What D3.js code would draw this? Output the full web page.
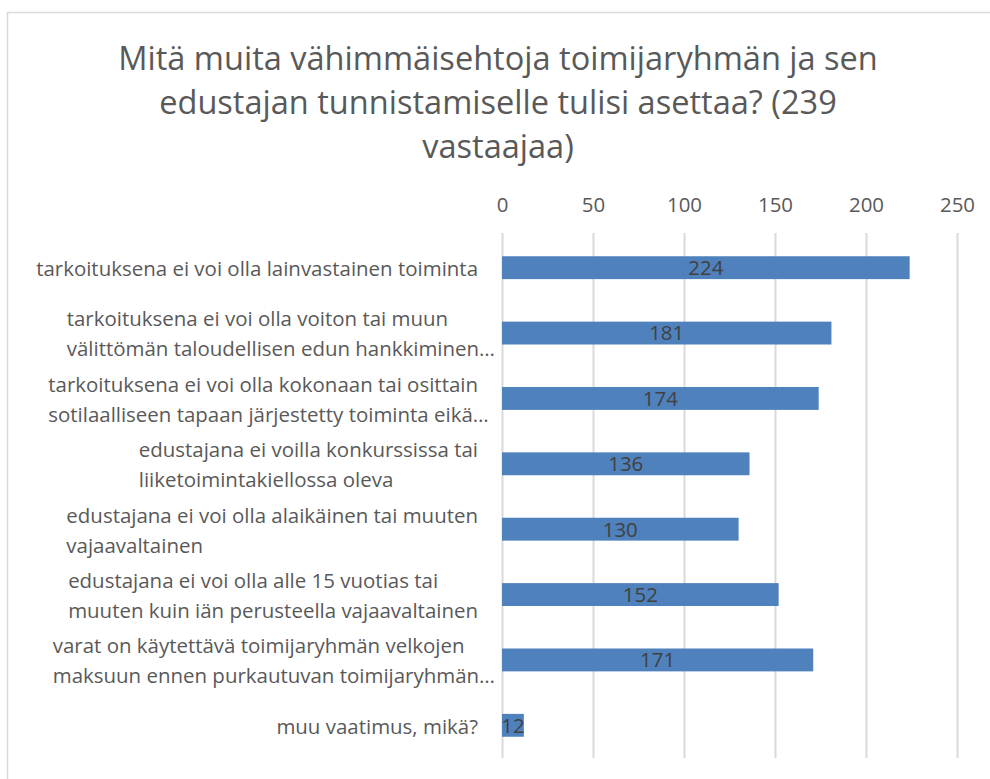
<!DOCTYPE html>
<html>
<head>
<meta charset="utf-8">
<script src="https://cdn.jsdelivr.net/npm/d3@7"></script>
<style>
  body { margin: 0; background: #fff; }
  svg { display: block; font-family: 'Open Sans', sans-serif; }
</style>
</head>
<body>
<svg></svg>
<script>
// chart data
const titleLines = [
    'Mitä muita vähimmäisehtoja toimijaryhmän ja sen',
    'edustajan tunnistamiselle tulisi asettaa? (239',
    'vastaajaa)'
]
const categories = [
    ['tarkoituksena ei voi olla lainvastainen toiminta'],
    ['tarkoituksena ei voi olla voiton tai muun', 'välittömän taloudellisen edun hankkiminen…'],
    ['tarkoituksena ei voi olla kokonaan tai osittain', 'sotilaalliseen tapaan järjestetty toiminta eikä…'],
    ['edustajana ei voilla konkurssissa tai', 'liiketoimintakiellossa oleva'],
    ['edustajana ei voi olla alaikäinen tai muuten', 'vajaavaltainen'],
    ['edustajana ei voi olla alle 15 vuotias tai', 'muuten kuin iän perusteella vajaavaltainen'],
    ['varat on käytettävä toimijaryhmän velkojen', 'maksuun ennen purkautuvan toimijaryhmän…'],
    ['muu vaatimus, mikä?']
]
const values = [224, 181, 174, 136, 130, 152, 171, 12]
const ticks = [0, 50, 100, 150, 200, 250]

const width = 990, height = 779
const plot = {left: 502, right: 957, top: 235, bottom: 758}

let svg = d3.select('svg')
    .attr('width', width)
    .attr('height', height)

// outer frame (only top and left visible)
svg.append('path')
    .attr('d', `M7.5,${height} V12.5 H${width}`)
    .attr('fill', 'none')
    .attr('stroke', '#d9d9d9')
    .attr('stroke-width', 1.5)

// helper to size a font so a string reaches a target width
function fitSize(text, target, base) {
    let t = svg.append('text').style('font-size', base + 'px').text(text)
    let w = t.node().getComputedTextLength()
    t.remove()
    return base * target / w
}

const titleSize = fitSize(titleLines[0], 760, 30)
const labelSize = fitSize(categories[0][0], 442, 20)
const numSize = fitSize('224', 35, 20)

// title
svg.append('g')
    .selectAll('text')
    .data(titleLines)
    .enter()
    .append('text')
        .attr('x', 498)
        .attr('y', (d, i) => 70 + i * 44)
        .attr('text-anchor', 'middle')
        .attr('fill', '#595959')
        .style('font-size', titleSize + 'px')
        .text(d => d)

// scales
let xScale = d3.scaleLinear()
    .domain([0, 250])
    .range([plot.left, plot.right])

let yScale = d3.scaleBand()
    .domain(d3.range(categories.length))
    .range([plot.top, plot.bottom])
    .paddingInner(0.65)
    .paddingOuter(0.325)

// gridlines + top axis
let xAxis = d3.axisTop(xScale)
    .tickValues(ticks)
    .tickSize(-(plot.bottom - plot.top + 2))
    .tickPadding(10)
    .tickSizeOuter(0)

let axis = svg.append('g')
    .attr('transform', `translate(0, ${plot.top - 2})`)
    .call(xAxis)
axis.select('.domain').remove()
axis.selectAll('line')
    .attr('stroke', '#d9d9d9')
    .attr('stroke-width', 2)
axis.selectAll('text')
    .attr('fill', '#595959')
    .attr('y', -21)
    .style('font-size', numSize + 'px')
    .style('font-family', "'Open Sans', sans-serif")

// bars
svg.append('g')
    .selectAll('rect')
    .data(values)
    .enter()
    .append('rect')
        .attr('x', xScale(0))
        .attr('y', (d, i) => yScale(i))
        .attr('width', d => xScale(d) - xScale(0))
        .attr('height', yScale.bandwidth())
        .attr('fill', '#4f81bd')

// value labels
svg.append('g')
    .selectAll('text')
    .data(values)
    .enter()
    .append('text')
        .attr('x', d => (xScale(d) + xScale(0)) / 2)
        .attr('y', (d, i) => yScale(i) + yScale.bandwidth() / 2)
        .attr('dy', '0.36em')
        .attr('text-anchor', 'middle')
        .attr('fill', '#404040')
        .style('font-size', numSize + 'px')
        .text(d => d)

// category labels: lines left aligned, block right aligned
const labelRight = 478, lineGap = 30
let labels = svg.append('g')
categories.forEach((lines, i) => {
    let cy = yScale(i) + yScale.bandwidth() / 2
    let g = labels.append('text')
        .attr('fill', '#595959')
        .style('font-size', labelSize + 'px')
    let spans = lines.map((line, j) => g.append('tspan')
        .attr('y', cy + (j - (lines.length - 1) / 2) * lineGap + 1)
        .attr('dy', '0.36em')
        .text(line))
    let maxW = d3.max(spans, s => {
        let w = s.node().getComputedTextLength()
        if (s.text().endsWith('…')) w -= 17
        return w
    })
    spans.forEach(s => s.attr('x', labelRight - maxW))
})
</script>
</body>
</html>
